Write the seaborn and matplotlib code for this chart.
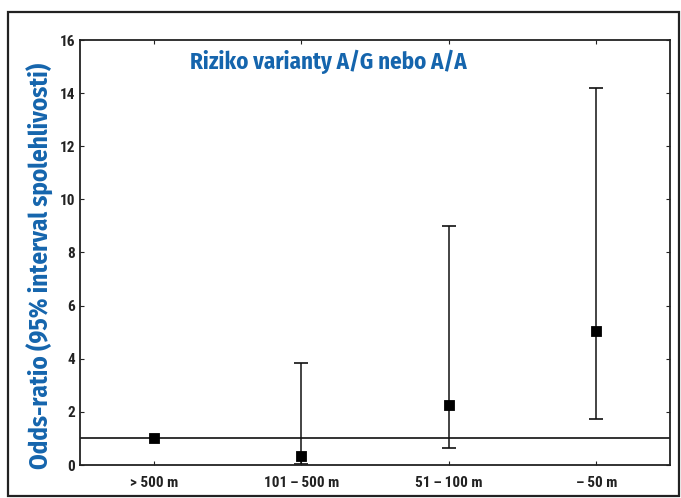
import matplotlib
matplotlib.use("Agg")
import matplotlib.pyplot as plt
import seaborn as sns
import numpy as np
import pandas as pd
from matplotlib.patches import Rectangle

categories = ["> 500 m", "101\u2009–\u2009500 m", "51\u2009–\u2009100 m", "–\u200950 m"]
odds_ratio = [1.0, 0.35, 2.25, 5.05]
ci_low = [np.nan, 0.05, 0.65, 1.75]
ci_high = [np.nan, 3.85, 9.0, 14.2]
yticks = [0, 2, 4, 6, 8, 10, 12, 14, 16]
reference_level = 1.0

sns.set_theme(style="white")
plt.rcParams['font.family'] = ['Fira Sans Condensed', 'DejaVu Sans']
plt.rcParams['font.stretch'] = 'condensed'
plt.rcParams['xtick.direction'] = 'in'
plt.rcParams['ytick.direction'] = 'in'

df = pd.DataFrame({"pos": np.arange(1, len(categories) + 1), "or": odds_ratio,
                   "lo": ci_low, "hi": ci_high, "cat": categories})

fig = plt.figure(figsize=(6.81, 4.98), dpi=100)
fig.patch.set_facecolor("white")
fig.patches.append(Rectangle((8/681, 2/498), 671/681, 484/498, transform=fig.transFigure,
                             fill=False, edgecolor="#222222", linewidth=1.6))
ax = fig.add_axes([80/681, 33/498, 590/681, 425/498])

ax.errorbar(df["pos"], df["or"],
            yerr=[df["or"] - df["lo"], df["hi"] - df["or"]],
            fmt="none", ecolor="#111111", elinewidth=1.1, capsize=5, capthick=1.2, zorder=2)
sns.scatterplot(data=df, x="pos", y="or", marker="s", s=55, color="black",
                edgecolor="black", ax=ax, zorder=3, legend=False)
ax.axhline(reference_level, color="#111111", linewidth=1.2, zorder=1)

ax.set_xlim(0.5, len(categories) + 0.5)
ax.set_ylim(0, 16)
ax.set_xticks(df["pos"])
ax.set_xticklabels(categories)
ax.set_yticks(yticks)
ax.set_yticklabels([str(t) for t in yticks])
ax.tick_params(axis="both", which="both", labelsize=11, colors="#222222",
               length=3, width=0.8, top=True, right=True, bottom=True, left=True,
               labelright=False, labeltop=False)
ax.tick_params(axis="x", pad=8)
for lbl in ax.get_xticklabels() + ax.get_yticklabels():
    lbl.set_family(['Roboto Condensed', 'Fira Sans Condensed', 'DejaVu Sans'])
    lbl.set_fontweight("bold")
for s in ax.spines.values():
    s.set_color("#222222")
    s.set_linewidth(1.3)
ax.set_xlabel("")
ax.set_ylabel("")

blue = "#1565ad"
ax.text(0.186, 0.948, "Riziko varianty A/G nebo A/A", transform=ax.transAxes,
        fontsize=16.5, fontweight="bold", color=blue, ha="left", va="center")
fig.text(40/681, 1 - 266/498, "Odds-ratio (95% interval spolehlivosti)", rotation=90,
         fontsize=18, fontweight="bold", color=blue, ha="center", va="center")

fig.savefig("out.png", dpi=100, facecolor="white")
